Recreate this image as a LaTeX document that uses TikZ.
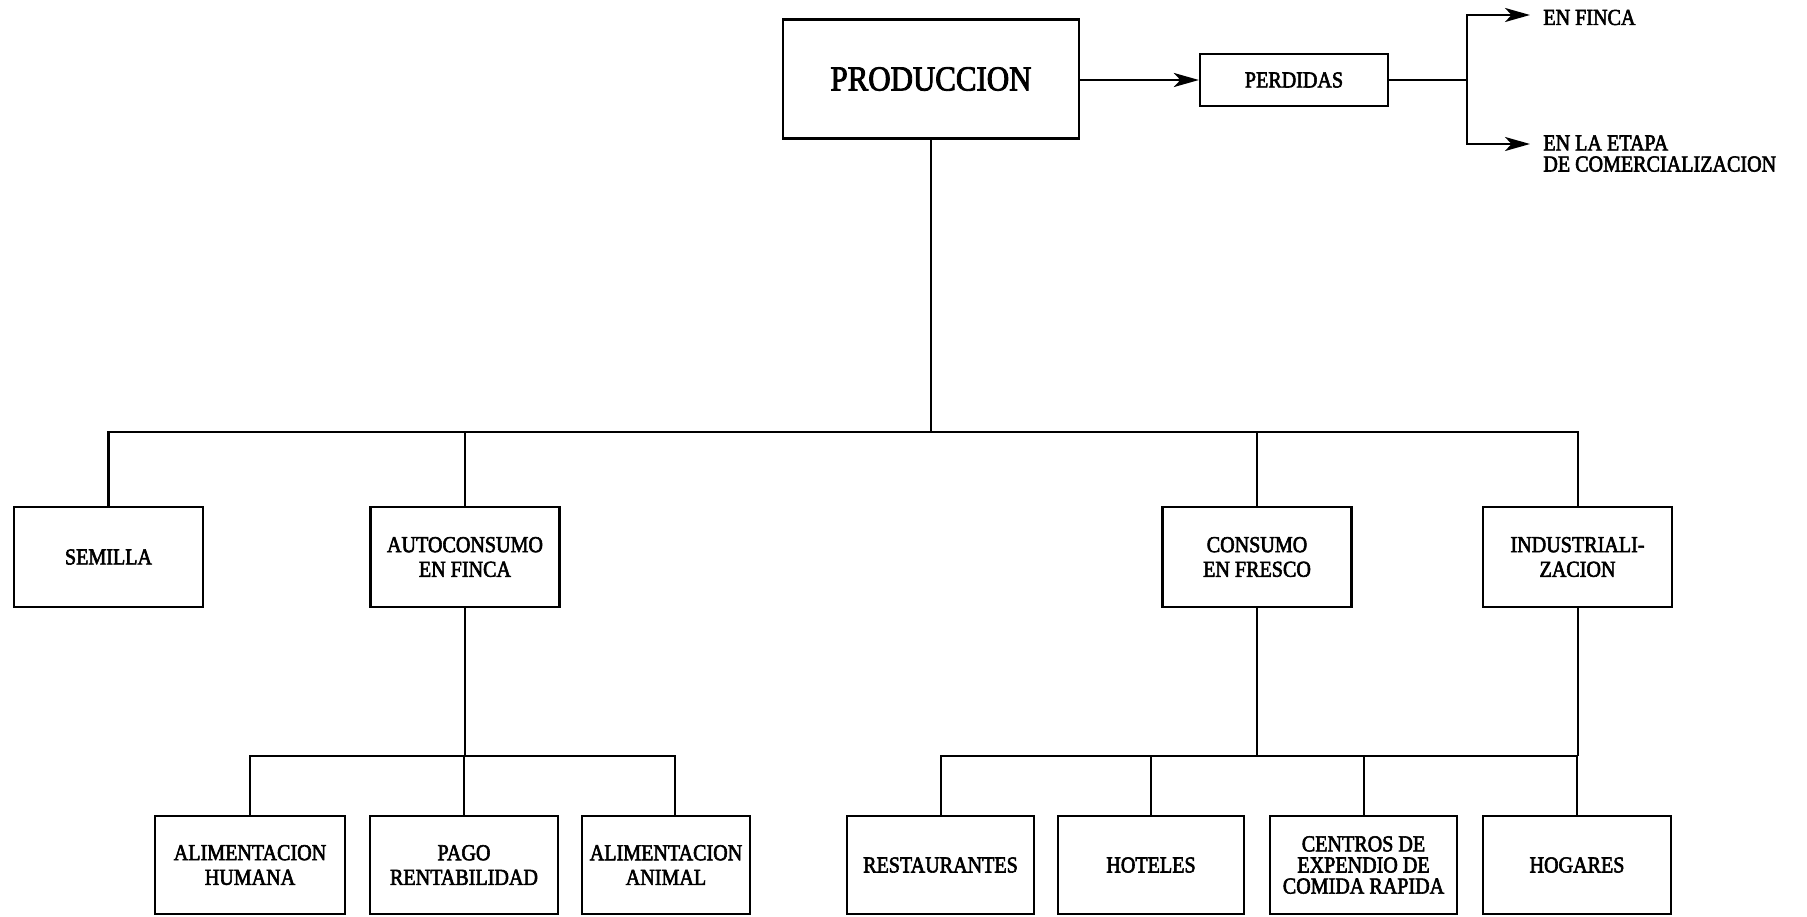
\documentclass[tikz,border=0pt]{standalone}
\usepackage{fontspec}
\setmainfont{Liberation Serif}
\newfontfamily\labfont{Liberation Serif}[FakeStretch=0.88,FakeBold=2.5]
\usetikzlibrary{arrows.meta,calc}
\begin{document}
\begin{tikzpicture}[x=0.02cm,y=-0.02cm,
  box/.style={draw,line width=1.3pt,inner sep=2pt,align=center,
    font=\labfont\fontsize{13}{14}\selectfont},
  topbox/.style={box,minimum width=3.78cm,minimum height=2.0cm},
  botbox/.style={box,minimum width=3.76cm,minimum height=1.96cm},
  conn/.style={line width=1.15pt},
  arr/.style={line width=1.4pt,-{Stealth[length=0.5cm,width=0.28cm,inset=0.13cm]}},
  lbl/.style={inner sep=0pt,align=left,font=\labfont\fontsize{13}{12}\selectfont}
]
\useasboundingbox (0,0) rectangle (1807,916);

% top
\node[box,line width=1.5pt,minimum width=5.92cm,minimum height=2.38cm,
  font=\labfont\fontsize{20}{22}\selectfont] (prod) at (931,79) {PRODUCCION};
\node[box,minimum width=3.76cm,minimum height=1.04cm] (perd) at (1294,80) {PERDIDAS};
\node[lbl,anchor=west] (enf) at (1543,17.5) {EN FINCA};
\node[lbl,anchor=north west] (enl) at (1543,135) {EN LA ETAPA\\DE COMERCIALIZACION};

% middle row
\node[topbox] (sem) at (108.5,557) {SEMILLA};
\node[topbox] (auto) at (465,557) {AUTOCONSUMO\\EN FINCA};
\node[topbox] (cons) at (1257,557) {CONSUMO\\EN FRESCO};
\node[topbox] (ind) at (1577.5,557) {INDUSTRIALI-\\ZACION};

% bottom row
\node[botbox,minimum width=3.8cm] (hum) at (250,865) {ALIMENTACION\\HUMANA};
\node[botbox] (pago) at (464,865) {PAGO\\RENTABILIDAD};
\node[botbox,minimum width=3.36cm] (anim) at (666,865) {ALIMENTACION\\ANIMAL};
\node[botbox,minimum width=3.74cm] (rest) at (940.5,865) {RESTAURANTES};
\node[botbox,minimum width=3.72cm] (hot) at (1151,865) {HOTELES};
\node[botbox,minimum width=3.74cm,font=\labfont\fontsize{13}{12}\selectfont] (cent) at (1363.5,865) {CENTROS DE\\EXPENDIO DE\\COMIDA RAPIDA};
\node[botbox] (hog) at (1577,865) {HOGARES};

% junctions
\coordinate (j0) at (931,432);
\coordinate (j1) at (465,756);
\coordinate (j2) at (1257,756);
\coordinate (j3) at (1467,80);
\coordinate (a1) at (1530,15);
\coordinate (a2) at (1530,144);

% PRODUCCION -> PERDIDAS -> branches
\draw[arr,line width=1.7pt] (prod.east |- perd.west) -- (perd.west);
\draw[conn] (perd.east) -- (j3);
\draw[arr] (j3) |- (a1);
\draw[arr] (j3) |- (a2);

% main tree
\draw[conn] (prod.south) -- (j0);
\draw[conn] (sem.north) -- (sem.north |- j0) -- (ind.north |- j0) -- (ind.north);
\draw[conn] (auto.north) -- (auto.north |- j0);
\draw[conn] (cons.north) -- (cons.north |- j0);

% autoconsumo subtree
\draw[conn] (auto.south) -- (j1);
\draw[conn] (hum.north) -- (hum.north |- j1) -- ([xshift=0.18cm]anim.north |- j1) -- ([xshift=0.18cm]anim.north);
\draw[conn] (pago.north) -- (pago.north |- j1);

% consumo / industrializacion subtree
\draw[conn] (cons.south) -- (j2);
\draw[conn] (ind.south) -- (ind.south |- j2);
\draw[conn] (rest.north) -- (rest.north |- j2) -- (hog.north |- j2) -- (hog.north);
\draw[conn] (hot.north) -- (hot.north |- j2);
\draw[conn] (cent.north) -- (cent.north |- j2);
\end{tikzpicture}
\end{document}
